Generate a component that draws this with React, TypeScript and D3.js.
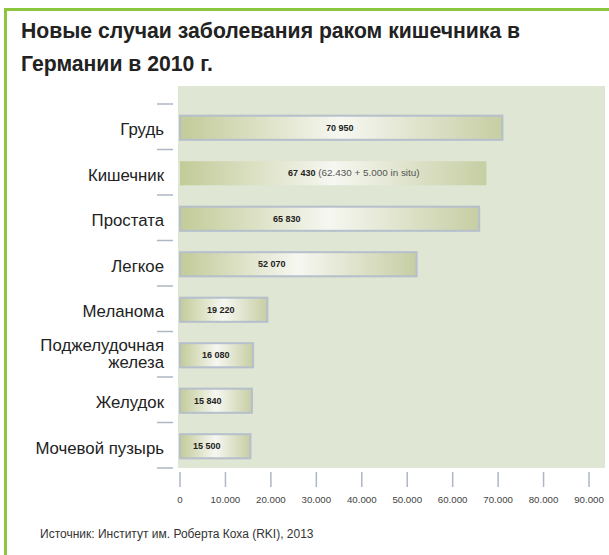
import React from 'react';
import * as d3 from 'd3';

const categories = [
  'Грудь',
  'Кишечник',
  'Простата',
  'Легкое',
  'Меланома',
  'Поджелудочная железа',
  'Желудок',
  'Мочевой пузырь',
];
const cases = [70950, 67430, 65830, 52070, 19220, 16080, 15840, 15500];
const valueLabels = ['70 950', '67 430', '65 830', '52 070', '19 220', '16 080', '15 840', '15 500'];
const valueNotes = ['', '(62.430 + 5.000 in situ)', '', '', '', '', '', ''];
const xTicks = [0, 10000, 20000, 30000, 40000, 50000, 60000, 70000, 80000, 90000];
const xTickLabels = ['0', '10.000', '20.000', '30.000', '40.000', '50.000', '60.000', '70.000', '80.000', '90.000'];

const titleLines = ['Новые случаи заболевания раком кишечника в', 'Германии в 2010 г.'];
const source = 'Источник: Институт им. Роберта Коха (RKI), 2013';

// layout
const W = 609;
const H = 555;
const plot = { left: 178, right: 605, top: 86, bottom: 468 };
// px offset of each value label from the bar start
const labelOffsets = [146, 108, 93, 78, 27, 22, 14, 13];
const font = '"Liberation Sans", Arial, sans-serif';

export default function App() {
  const x = d3.scaleLinear().domain([0, 90000]).range([180, 589]);
  const y = d3
    .scaleBand<string>()
    .domain(categories)
    .range([104, 468])
    .paddingInner(0.47)
    .paddingOuter(0.235);
  const step = y.step();
  const bw = y.bandwidth();
  const separators = d3.range(categories.length + 1).map((i) => 104 + i * step);

  return (
    <svg
      width={W}
      height={H}
      style={{ position: 'absolute', left: 0, top: 0, background: '#fff' }}
      fontFamily={font}
    >
      <defs>
        <linearGradient id="barGrad" x1="0" y1="0" x2="1" y2="0">
          <stop offset="0" stopColor="#c2cb98" />
          <stop offset="0.5" stopColor="#f6f7f1" />
          <stop offset="1" stopColor="#c6cea3" />
        </linearGradient>
      </defs>

      <rect x={5.5} y={9.5} width={700} height={700} fill="none" stroke="#8cc63f" strokeWidth={3} />

      {titleLines.map((t, i) => (
        <text key={t} x={21} y={38 + i * 33} fontSize={21.2} fontWeight="bold" fill="#222">
          {t}
        </text>
      ))}

      <rect
        x={plot.left}
        y={plot.top}
        width={plot.right - plot.left}
        height={plot.bottom - plot.top}
        fill="#dfe6d3"
      />

      {separators.map((s) => (
        <line key={s} x1={157} x2={173} y1={s} y2={s} stroke="#aeb7c6" strokeWidth={1.5} />
      ))}

      {categories.map((c, i) => {
        const by = (y(c) as number) + 1;
        const cy = by + bw / 2;
        const parts = c === 'Поджелудочная железа' ? ['Поджелудочная', 'железа'] : [c];
        return (
          <g key={c}>
            <rect
              x={x(0)}
              y={by}
              width={x(cases[i]) - x(0)}
              height={bw}
              fill="url(#barGrad)"
              stroke={i === 1 ? 'none' : '#b6bfcc'}
              strokeWidth={2}
            />
            <text x={x(0) + labelOffsets[i]} y={cy + 3.2} fontSize={9} fill="#222">
              <tspan fontWeight="bold">{valueLabels[i]}</tspan>
              {valueNotes[i] && (
                <tspan fill="#555" fontSize={9.9}>
                  {' '}
                  {valueNotes[i]}
                </tspan>
              )}
            </text>
            {parts.length === 1 ? (
              <text x={164} y={cy + 7.5} fontSize={16.8} textAnchor="end" fill="#222">
                {c}
              </text>
            ) : (
              parts.map((p, k) => (
                <text key={p} x={164} y={cy - 4.5 + k * 17.5} fontSize={16.8} textAnchor="end" fill="#222">
                  {p}
                </text>
              ))
            )}
          </g>
        );
      })}

      {xTicks.map((t, i) => (
        <g key={t}>
          <line x1={x(t)} x2={x(t)} y1={472} y2={487} stroke="#aeb7c6" strokeWidth={1.5} />
          <text x={x(t)} y={503} fontSize={9.7} textAnchor="middle" fill="#444">
            {xTickLabels[i]}
          </text>
        </g>
      ))}

      <text x={40} y={538} fontSize={12} fill="#333">
        {source}
      </text>
    </svg>
  );
}
